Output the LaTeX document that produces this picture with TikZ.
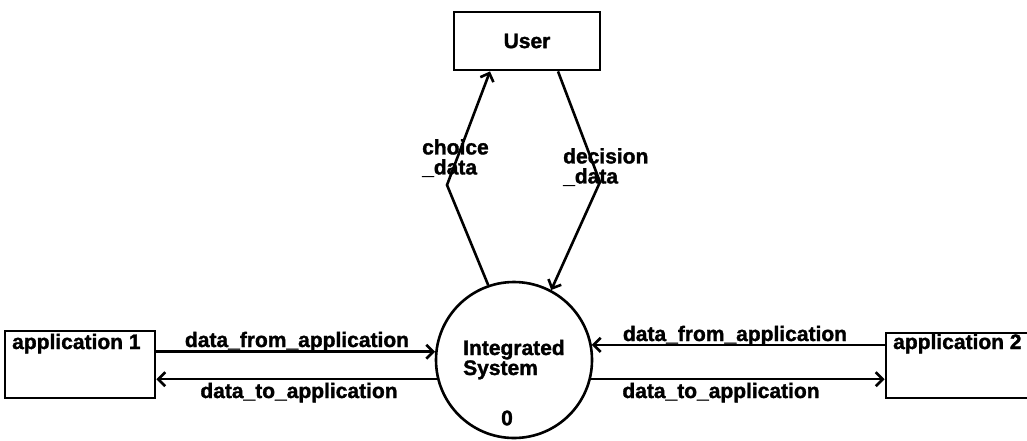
\documentclass[tikz,border=0pt]{standalone}
\usepackage{fontspec}
\setmainfont{Liberation Sans}[BoldFeatures={FakeBold=1.5}]
\usetikzlibrary{arrows.meta}
\begin{document}
\begin{tikzpicture}[x=1pt,y=-1pt,
  every node/.style={font=\bfseries\fontsize{21}{20}\selectfont, inner sep=0pt},
  ent/.style={draw, line width=2.8pt, rectangle},
  proc/.style={draw, line width=2.6pt, circle, minimum size=156pt},
  flow/.style={line width=2.6pt, -{Straight Barb[length=7pt,width=14pt,line width=2.6pt]}},
  lbl/.style={anchor=base}
]
\useasboundingbox (0,0) rectangle (1027,440);
\clip (0,0) rectangle (1027,440);
% nodes
\node[ent, minimum width=146pt, minimum height=58pt] (user) at (527,41) {User};
\node[proc] (sys) at (514,360) {};
\node[anchor=base west] (systxt1) at (463,355) {Integrated};
\node[anchor=base west] (systxt2) at (463,375) {System};
\node (sysnum) at (507,418) {0};
\node[ent, minimum width=150pt, minimum height=67pt] (app1) at (80,364.5) {};
\node[anchor=base west] (app1t) at (12,349) {application 1};
\node[ent, minimum width=170pt, minimum height=65pt] (app2) at (971,365.5) {};
\node[anchor=base west] (app2t) at (893,349) {application 2};
% bends
\coordinate (cb) at (447,185);
\coordinate (db) at (600,182);
% vertical flows
\draw[flow] (sys.109) -- (cb) -- ([xshift=-37pt]user.south);
\draw[flow] ([xshift=31pt]user.south) -- (db) -- (sys.62);
\node[anchor=north west, align=left] (choice) at (422,139) {choice\\\_data};
\node[anchor=north west, align=left] (decision) at (563,148) {decision\\\_data};
% horizontal flows
\draw[flow] (sys.174.1 -| app1.east) -- (sys.174.1);
\draw[flow] (sys.194.1) -- (sys.194.1 -| app1.east);
\draw[flow] (sys.11.1 -| app2.west) -- (sys.11.1);
\draw[flow] (sys.-14.9) -- (sys.-14.9 -| app2.west);
\node[lbl] (l1) at (297,347) {data\_from\_application};
\node[lbl] (l2) at (299,398) {data\_to\_application};
\node[lbl] (l3) at (735,341) {data\_from\_application};
\node[lbl] (l4) at (721,398) {data\_to\_application};
\end{tikzpicture}
\end{document}
